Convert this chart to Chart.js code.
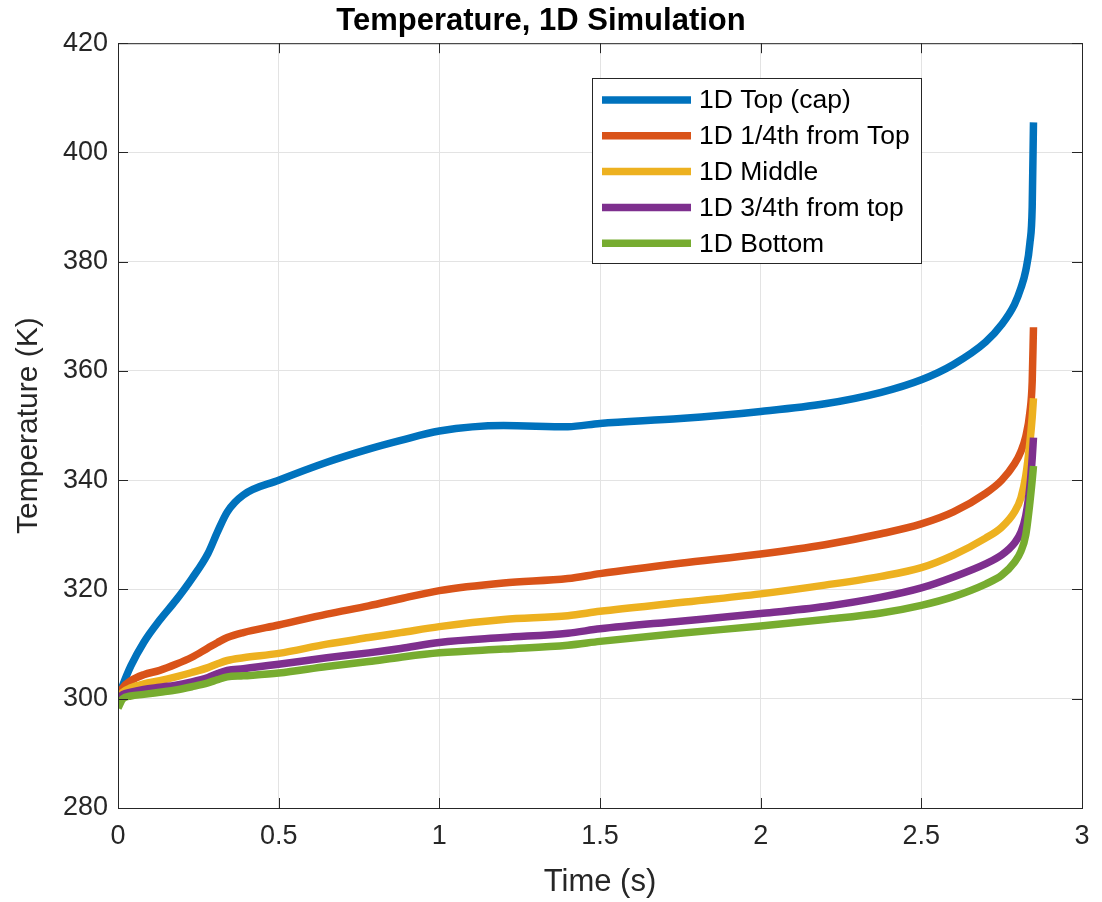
<!DOCTYPE html>
<html>
<head>
<meta charset="utf-8">
<script src="https://cdn.jsdelivr.net/npm/chart.js@4"></script>
<style>
  body { margin: 0; background: #fff; }
  #wrap { width: 1102px; height: 902px; }
</style>
</head>
<body>
<div id="wrap"><canvas id="myChart"></canvas></div>
<script>
// Datos
const times = [0, 0.015, 0.04, 0.08, 0.13, 0.18, 0.23, 0.28, 0.31, 0.34, 0.39, 0.5, 0.65, 0.78, 0.88, 1.0, 1.2, 1.4, 1.5, 1.75, 2.0, 2.2, 2.375, 2.5, 2.6, 2.7, 2.75, 2.79, 2.81, 2.825, 2.838, 2.845, 2.849];

const topCap = [300, 302.5, 306, 310.3, 314.4, 318, 322, 326.6, 330.6, 334.2, 337.3, 340, 343.3, 345.7, 347.3, 349, 350, 349.8, 350.4, 351.3, 352.6, 354, 356.1, 358.4, 361.2, 365.3, 368.5, 372.2, 375.2, 378.4, 383.5, 390, 405.5];
const quarterTop = [300, 302, 303.3, 304.4, 305.2, 306.3, 307.6, 309.3, 310.3, 311.2, 312.1, 313.5, 315.5, 317, 318.3, 319.8, 321.2, 322, 322.9, 324.8, 326.5, 328.2, 330.2, 332, 334.2, 337.6, 340, 343, 345.3, 348, 352.5, 358, 368];
const middle = [300, 301.2, 302, 302.7, 303.3, 304, 304.8, 305.7, 306.4, 307, 307.5, 308.3, 310, 311.2, 312.1, 313.2, 314.5, 315.2, 316, 317.6, 319.2, 320.8, 322.4, 324, 326.3, 329.4, 331.4, 334.2, 336.8, 340.8, 347, 351.5, 355];
const threeQuarter = [300, 300.8, 301.2, 301.7, 302.1, 302.5, 303.1, 303.9, 304.6, 305.2, 305.5, 306.3, 307.5, 308.4, 309.2, 310.3, 311.2, 312, 312.8, 314.2, 315.6, 316.9, 318.6, 320.3, 322.3, 324.7, 326.3, 328.5, 330.5, 333.5, 339, 344, 347.8];
const bottom = [298.3, 300, 300.5, 300.8, 301.2, 301.6, 302.2, 302.9, 303.5, 304, 304.2, 304.7, 305.9, 306.8, 307.6, 308.4, 309.1, 309.8, 310.5, 312, 313.3, 314.5, 315.7, 317.1, 318.7, 321, 322.6, 325, 327, 330, 336, 340, 342.6];

const seriesNames = ['1D Top (cap)', '1D 1/4th from Top', '1D Middle', '1D 3/4th from top', '1D Bottom'];
const seriesValues = [topCap, quarterTop, middle, threeQuarter, bottom];
const colors = ['#0072BD', '#D95319', '#EDB120', '#7E2F8E', '#77AC30'];

const xTicks = [0, 0.5, 1, 1.5, 2, 2.5, 3];
const yTicks = [280, 300, 320, 340, 360, 380, 400, 420];

const FONT = "'Liberation Sans', Arial, sans-serif";
const AXIS = '#262626';

const datasets = seriesValues.map((vals, i) => ({
  label: seriesNames[i],
  data: vals.map((v, k) => ({ x: times[k], y: v })),
  borderColor: colors[i],
  backgroundColor: colors[i],
  borderWidth: 7.5,
  borderCapStyle: 'butt',
  pointRadius: 0,
  cubicInterpolationMode: 'monotone',
  order: seriesValues.length - 1 - i
}));

// Caja, marcas hacia adentro y leyenda estilo MATLAB
const matlabBox = {
  id: 'matlabBox',
  afterDatasetsDraw(chart) {
    const { ctx, chartArea: a, scales } = chart;
    ctx.save();
    ctx.strokeStyle = AXIS;
    ctx.lineWidth = 1;
    ctx.strokeRect(a.left + 0.5, a.top + 0.5, a.right - a.left, a.bottom - a.top);
    ctx.beginPath();
    xTicks.forEach(t => {
      const px = Math.round(scales.x.getPixelForValue(t)) + 0.5;
      ctx.moveTo(px, a.bottom); ctx.lineTo(px, a.bottom - 10);
      ctx.moveTo(px, a.top); ctx.lineTo(px, a.top + 10);
    });
    yTicks.forEach(t => {
      const py = Math.round(scales.y.getPixelForValue(t)) + 0.5;
      ctx.moveTo(a.left, py); ctx.lineTo(a.left + 10, py);
      ctx.moveTo(a.right, py); ctx.lineTo(a.right - 10, py);
    });
    ctx.stroke();

    // leyenda
    const lx = 592, ly = 78, lw = 329, lh = 185;
    ctx.fillStyle = '#fff';
    ctx.fillRect(lx, ly, lw, lh);
    ctx.strokeRect(lx + 0.5, ly + 0.5, lw, lh);
    ctx.font = '26.5px ' + FONT;
    ctx.textBaseline = 'middle';
    seriesNames.forEach((name, i) => {
      const y = ly + 22 + i * 35.8;
      ctx.strokeStyle = colors[i];
      ctx.lineWidth = 7.5;
      ctx.beginPath();
      ctx.moveTo(602, y); ctx.lineTo(691, y);
      ctx.stroke();
      ctx.fillStyle = '#000';
      ctx.fillText(name, 699, y + 1);
    });
    ctx.restore();
  }
};

const ctx = document.getElementById('myChart').getContext('2d');

const config = {
  type: 'line',
  data: { datasets },
  options: {
    responsive: true,
    maintainAspectRatio: false,
    animation: false,
    layout: { padding: { left: 0, right: 20, top: 0, bottom: 0 } },
    plugins: {
      legend: { display: false },
      tooltip: { enabled: false },
      title: {
        display: true,
        text: 'Temperature, 1D Simulation',
        color: '#000',
        font: { family: FONT, size: 31, weight: 'bold' },
        padding: { top: 3, bottom: 3 }
      }
    },
    scales: {
      x: {
        type: 'linear',
        min: 0,
        max: 3,
        afterFit(scale) { scale.height = 94; },
        afterBuildTicks(scale) { scale.ticks = xTicks.map(v => ({ value: v })); },
        border: { display: false },
        grid: { color: '#e3e3e3', drawTicks: false },
        ticks: {
          color: AXIS,
          font: { family: FONT, size: 27 },
          padding: 12,
          maxRotation: 0,
          callback: v => String(v)
        },
        title: {
          display: true,
          text: 'Time (s)',
          color: AXIS,
          font: { family: FONT, size: 31 },
          padding: { top: 0, bottom: 1 }
        }
      },
      y: {
        min: 280,
        max: 420,
        afterFit(scale) { scale.width = 118; },
        afterBuildTicks(scale) { scale.ticks = yTicks.map(v => ({ value: v })); },
        border: { display: false },
        grid: { color: '#e3e3e3', drawTicks: false },
        ticks: { color: AXIS, font: { family: FONT, size: 27 }, padding: 10 },
        title: {
          display: true,
          text: 'Temperature (K)',
          color: AXIS,
          font: { family: FONT, size: 30 },
          padding: { top: 11, bottom: 0 }
        }
      }
    }
  },
  plugins: [matlabBox]
};

const myChart = new Chart(ctx, config);
</script>
</body>
</html>
